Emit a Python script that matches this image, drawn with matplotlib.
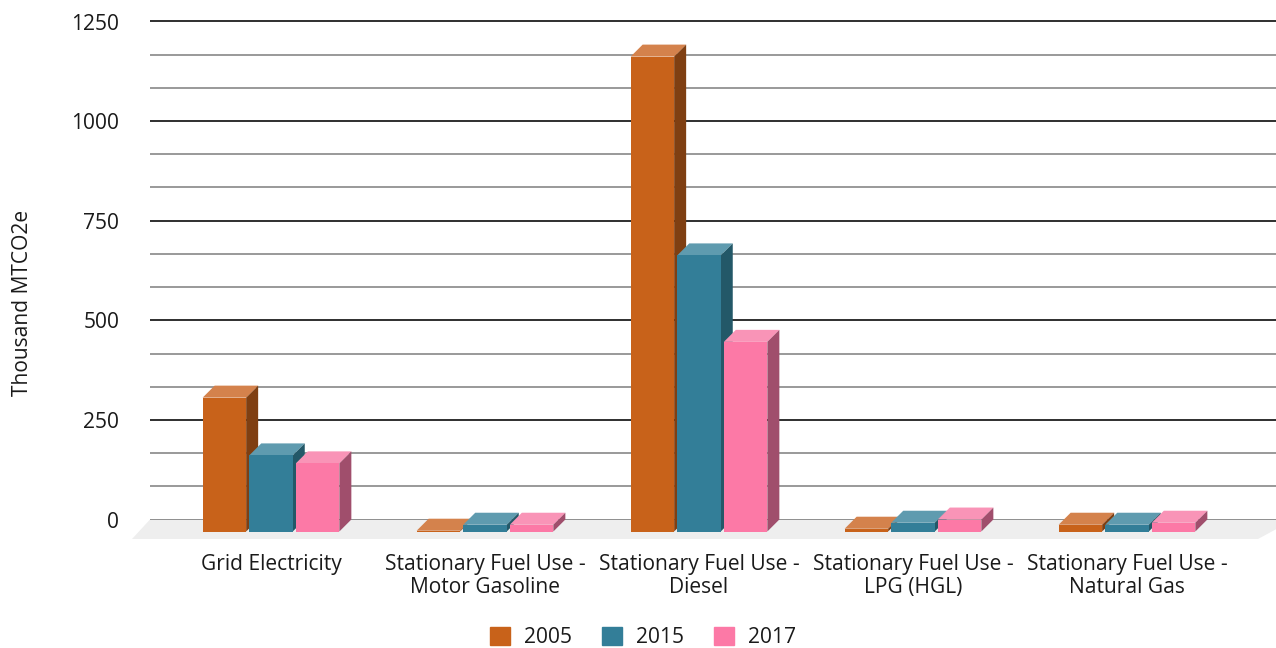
import numpy as np
import matplotlib
matplotlib.use("Agg")
import matplotlib.pyplot as plt
from matplotlib.patches import Patch, Polygon

plt.rcParams['font.family'] = ['Open Sans', 'DejaVu Sans']

# Data
categories = ["Grid Electricity",
              "Stationary Fuel Use -\nMotor Gasoline",
              "Stationary Fuel Use -\nDiesel",
              "Stationary Fuel Use -\nLPG (HGL)",
              "Stationary Fuel Use -\nNatural Gas"]
years = ["2005", "2015", "2017"]
values_2005 = [336, 2, 1192, 7, 17]
values_2015 = [191, 17, 693, 22, 17]
values_2017 = [171, 17, 476, 30, 22]
major_ticks = [0, 250, 500, 750, 1000, 1250]

# Face colours for each year: front, top, side
FRONT = ["#C8621A", "#337E98", "#FC79A6"]
TOP = ["#D4824C", "#5F9BAF", "#F994B7"]
SIDE = ["#7F3F12", "#235868", "#A04E6C"]

# Layout
W, H = 1276, 648
X_STEP = 214.0      # px between categories
Y_SCALE = 0.3984    # px per unit
X0 = 271.0          # px centre of the first category
Y0 = 531.5          # px of the bar base
LEFT, RIGHT, TOP_PX, BOTTOM = 150, 1276, 10, 539
FONT = 15.1

BAR_W = 43.5 / X_STEP
BAR_STEP = 46.6 / X_STEP
DX = 12 / X_STEP    # bar depth
DY = 12 / Y_SCALE
FLOOR_DX = 18 / X_STEP
FLOOR_DY = 19.5 / Y_SCALE

fig = plt.figure(figsize=(W / 100, H / 100), dpi=100)
ax = fig.add_axes([LEFT / W, 1 - BOTTOM / H, (RIGHT - LEFT) / W, (BOTTOM - TOP_PX) / H])
ax.set_xlim((LEFT - X0) / X_STEP, (RIGHT - X0) / X_STEP)
ax.set_ylim((Y0 - BOTTOM) / Y_SCALE, (Y0 - TOP_PX) / Y_SCALE)

for side in ax.spines.values():
    side.set_visible(False)

# Back wall grid, shifted by the bar depth
major = np.array(major_ticks)
minor = np.array([v + k * 250 / 3 for v in major_ticks[:-1] for k in (1, 2)])
ax.hlines(minor + DY, *ax.get_xlim(), color="#999999", lw=1.4, zorder=1)
ax.hlines(major + DY, *ax.get_xlim(), color="#0C0C0C", lw=1.2, zorder=1.1)

# Floor
x_back_l, x_back_r = ax.get_xlim()
y_back = DY
y_front = DY - FLOOR_DY
ax.add_patch(Polygon([(x_back_l, y_back), (x_back_r + FLOOR_DX, y_back),
                      (x_back_r - FLOOR_DX, y_front), (x_back_l - FLOOR_DX, y_front)],
                     closed=True, fc="#EEEEEE", ec="none", zorder=1.5, clip_on=False))

# Pseudo 3D bars: each one is a front bar plus a top and a side face
x = np.arange(len(categories))
series = [values_2005, values_2015, values_2017]
z = 2
for c in range(len(categories)):
    for i, vals in enumerate(series):
        xc = x[c] + (i - 1) * BAR_STEP
        l, r = xc - BAR_W / 2, xc + BAR_W / 2
        v = vals[c]
        ax.fill([l, l + DX, r + DX, r], [v, v + DY, v + DY, v],
                color=TOP[i], lw=0, zorder=z)
        ax.fill([r, r + DX, r + DX, r], [0, DY, v + DY, v],
                color=SIDE[i], lw=0, zorder=z)
        ax.bar(xc, v, BAR_W, color=FRONT[i], lw=0, zorder=z + 0.5)
        z += 1

# Axis labels
ax.set_yticks(major + DY, [str(v) for v in major_ticks])
ax.set_xticks(x, categories)
ax.tick_params(axis='y', length=0, pad=22, labelsize=FONT, labelcolor="#1A1A1A")
ax.tick_params(axis='x', length=0, pad=10.5, labelsize=FONT, labelcolor="#1A1A1A")
for lab in ax.get_xticklabels():
    lab.set_linespacing(1.18)

fig.text(22.5 / W, 1 - 303 / H, "Thousand MTCO2e", rotation=90, ha='center', va='center',
         fontsize=FONT, color="#1A1A1A")

handles = [Patch(fc=FRONT[i], ec=FRONT[i], lw=1, joinstyle='round', label=years[i]) for i in range(3)]
fig.legend(handles=handles, loc='center', bbox_to_anchor=(643 / W, 1 - 637.5 / H), ncol=3, frameon=False,
           fontsize=FONT, handlelength=0.95, handleheight=0.95, handletextpad=0.7,
           columnspacing=1.4, labelcolor="#1A1A1A", borderpad=0)

fig.savefig("out.png", dpi=100)
